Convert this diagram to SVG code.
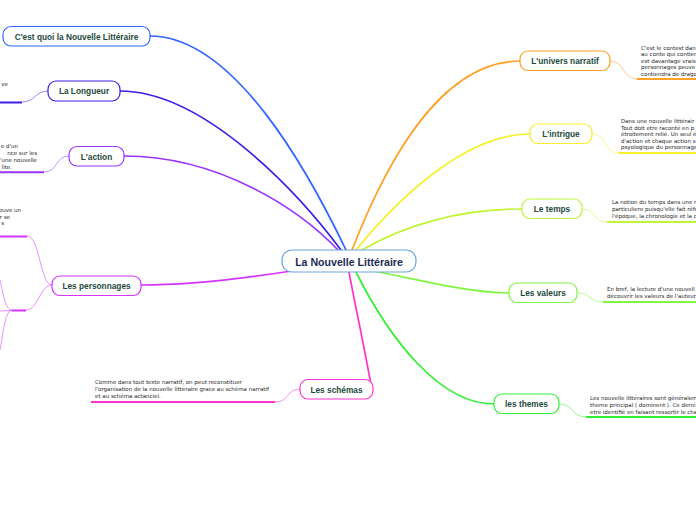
<svg xmlns="http://www.w3.org/2000/svg" width="696" height="520" viewBox="0 0 696 520">
<style>
.bg{fill:#ffffff}
.node rect{fill:#ffffff;stroke-width:1.2}
.node text.lbl{font-family:"Liberation Sans",Arial,sans-serif;font-weight:bold;font-size:8.3px;fill:#1d4a3c;text-anchor:middle;dominant-baseline:central}
.root rect{fill:#ffffff;stroke:#6aa6dc;stroke-width:1.2}
.root text{font-family:"Liberation Sans",Arial,sans-serif;font-weight:bold;font-size:10.6px;fill:#1b2c55;text-anchor:middle;dominant-baseline:central}
.main{fill:none;stroke-width:1.7;stroke-linecap:round}
.thin{fill:none;stroke-width:0.9;opacity:0.6}
.under{fill:none;stroke-width:2}
.node text.note{font-family:"DejaVu Sans",Verdana,sans-serif;font-size:5.5px;font-weight:normal;fill:#262626;dominant-baseline:central;text-anchor:start}
.node text.end{text-anchor:end}
</style>
<rect class="bg" x="0" y="0" width="696" height="520"/>
<g id="connectors">
  <path class="main" stroke="#2f64ff" d="M150,36 C235,36 310,175 346,250"/>
  <path class="main" stroke="#3a1fe8" d="M120,91 C205,91 300,195 341,250"/>
  <path class="main" stroke="#9933ff" d="M124,156 C220,156 300,210 338,250"/>
  <path class="main" stroke="#d633ff" d="M141,285 C200,285 260,276 298,270"/>
  <path class="main" stroke="#ff33cc" d="M349,272 C356,310 364,345 371,385"/>
  <path class="main" stroke="#ffa126" d="M352,250 C385,165 440,61 520,61"/>
  <path class="main" stroke="#f7ef2a" d="M356,250 C405,190 470,134 530,134"/>
  <path class="main" stroke="#bff533" d="M362,250 C405,225 460,209 522,209"/>
  <path class="main" stroke="#80f542" d="M374,271 C420,280 470,293 509,293"/>
  <path class="main" stroke="#33f033" d="M356,272 C390,340 440,404 494,404"/>
  <path class="thin" stroke="#3a1fe8" d="M48,91 C35,91 35,102 22,102"/>
  <path class="under" stroke="#3a1fe8" d="M22,102.5 L0,102.5"/>
  <path class="thin" stroke="#9933ff" d="M69,156 C55,156 58,172 44,172"/>
  <path class="under" stroke="#9933ff" d="M44,172.3 L0,172.3"/>
  <path class="thin" stroke="#d633ff" d="M52,285 C40,285 40,236 27,236"/>
  <path class="under" stroke="#d633ff" d="M27,236.5 L0,236.5"/>
  <path class="thin" stroke="#d633ff" d="M52,285 C40,285 38,310 26,310"/>
  <path class="under" stroke="#d633ff" d="M26,310.5 L12,310.5"/>
  <path class="thin" stroke="#d633ff" d="M12,310 C5,310 3,292 0,280"/>
  <path class="thin" stroke="#d633ff" d="M12,310 C5,310 3,335 0,350"/>
  <path class="thin" stroke="#d633ff" d="M12,310.5 L0,311"/>
  <path class="thin" stroke="#ff33cc" d="M300,389 C286,389 290,402 275,402"/>
  <path class="under" stroke="#ff33cc" d="M275,402 L91,402"/>
  <path class="thin" stroke="#ffa126" d="M610,61 C625,61 622,79 637,79"/>
  <path class="under" stroke="#ffa126" d="M637,79 L696,79"/>
  <path class="thin" stroke="#f7ef2a" d="M592,134 C607,134 604,153 619,153"/>
  <path class="under" stroke="#f7ef2a" d="M619,153 L696,153"/>
  <path class="thin" stroke="#bff533" d="M582,209 C597,209 592,222 607,222"/>
  <path class="under" stroke="#bff533" d="M607,222 L696,222"/>
  <path class="thin" stroke="#80f542" d="M577,293 C592,293 588,302 603,302"/>
  <path class="under" stroke="#80f542" d="M603,302 L696,302"/>
  <path class="thin" stroke="#33f033" d="M559,404 C574,404 571,417 586,417"/>
  <path class="under" stroke="#33f033" d="M586,417 L696,417"/>
</g>
<g id="root" class="root">
  <rect x="282" y="250" width="134" height="22" rx="10"/>
  <text x="349" y="261.5">La Nouvelle Littéraire</text>
</g>
<g id="n-cestquoi" class="node">
  <rect x="3" y="26.5" width="147" height="19.5" rx="8" stroke="#2f64ff"/>
  <text class="lbl" x="76.5" y="36.5">C'est quoi la Nouvelle Littéraire</text>
</g>
<g id="n-longueur" class="node">
  <rect x="48" y="81" width="72" height="20" rx="8" stroke="#3a1fe8"/>
  <text class="lbl" x="84" y="91">La Longueur</text>
  <text class="note end" x="8" y="84">ve</text>
</g>
<g id="n-action" class="node">
  <rect x="69" y="146.5" width="55" height="19.5" rx="8" stroke="#9933ff"/>
  <text class="lbl" x="96.5" y="156.5">L'action</text>
  <text class="note end" x="18" y="145.5">e d'un</text>
  <text class="note end" x="37" y="153">nce sur les</text>
  <text class="note end" x="37" y="160">'une nouvelle</text>
  <text class="note end" x="12" y="167">lite.</text>
</g>
<g id="n-personnages" class="node">
  <rect x="52" y="276" width="89" height="19.5" rx="8" stroke="#d633ff"/>
  <text class="lbl" x="96.5" y="286">Les personnages</text>
  <text class="note end" x="21" y="210">ouve un</text>
  <text class="note end" x="10" y="217">r se</text>
  <text class="note end" x="4" y="223">s</text>
</g>
<g id="n-schemas" class="node">
  <rect x="300" y="379.5" width="73" height="19.5" rx="8" stroke="#ff33cc"/>
  <text class="lbl" x="336.5" y="389.5">Les schémas</text>
  <text class="note" x="95" y="382">Comme dans tout texte narratif, on peut reconstituer</text>
  <text class="note" x="95" y="389">l'organisation de la nouvelle littéraire grace au schéma narratif</text>
  <text class="note" x="95" y="396">et au schéma actanciel.</text>
</g>
<g id="n-univers" class="node">
  <rect x="520" y="51" width="90" height="19.5" rx="8" stroke="#ffa126"/>
  <text class="lbl" x="565" y="61">L'univers narratif</text>
  <text class="note" x="641" y="47.5">C'est le contest dan</text>
  <text class="note" x="641" y="54">au conte qui contien</text>
  <text class="note" x="641" y="60.5">est davantage vrais-</text>
  <text class="note" x="641" y="67">personnages peuve</text>
  <text class="note" x="641" y="73.5">contiendra de drago</text>
</g>
<g id="n-intrigue" class="node">
  <rect x="530" y="124" width="62" height="19.5" rx="8" stroke="#f7ef2a"/>
  <text class="lbl" x="561" y="134">L'intrigue</text>
  <text class="note" x="621" y="121">Dans une nouvelle littérair</text>
  <text class="note" x="621" y="127.5">Tout doit etre raconté en p</text>
  <text class="note" x="621" y="134">étroitement relié. Un seul é</text>
  <text class="note" x="621" y="140.5">d'action et chaque action s</text>
  <text class="note" x="621" y="147">psyologique du personnage</text>
</g>
<g id="n-temps" class="node">
  <rect x="522" y="199" width="60" height="19.5" rx="8" stroke="#bff533"/>
  <text class="lbl" x="552" y="209">Le temps</text>
  <text class="note" x="612" y="202">La notion du temps dans une r</text>
  <text class="note" x="612" y="209">particuliere puisqu'elle fait réfé</text>
  <text class="note" x="612" y="216">l'époque, la chronologie et la c</text>
</g>
<g id="n-valeurs" class="node">
  <rect x="509" y="283" width="68" height="19.5" rx="8" stroke="#80f542"/>
  <text class="lbl" x="543" y="293">Les valeurs</text>
  <text class="note" x="607" y="289">En bref, la lecture d'une nouvell</text>
  <text class="note" x="607" y="296">découvrir les valeurs de l'auteur</text>
</g>
<g id="n-themes" class="node">
  <rect x="494" y="394" width="65" height="19.5" rx="8" stroke="#33f033"/>
  <text class="lbl" x="526.5" y="404">les themes</text>
  <text class="note" x="590" y="398">Les nouvelle littéraires sont généralem</text>
  <text class="note" x="590" y="405">theme principal ( dominent ). Ce derni</text>
  <text class="note" x="590" y="412">etre identifié en faisant ressortir le cha</text>
</g>
</svg>
